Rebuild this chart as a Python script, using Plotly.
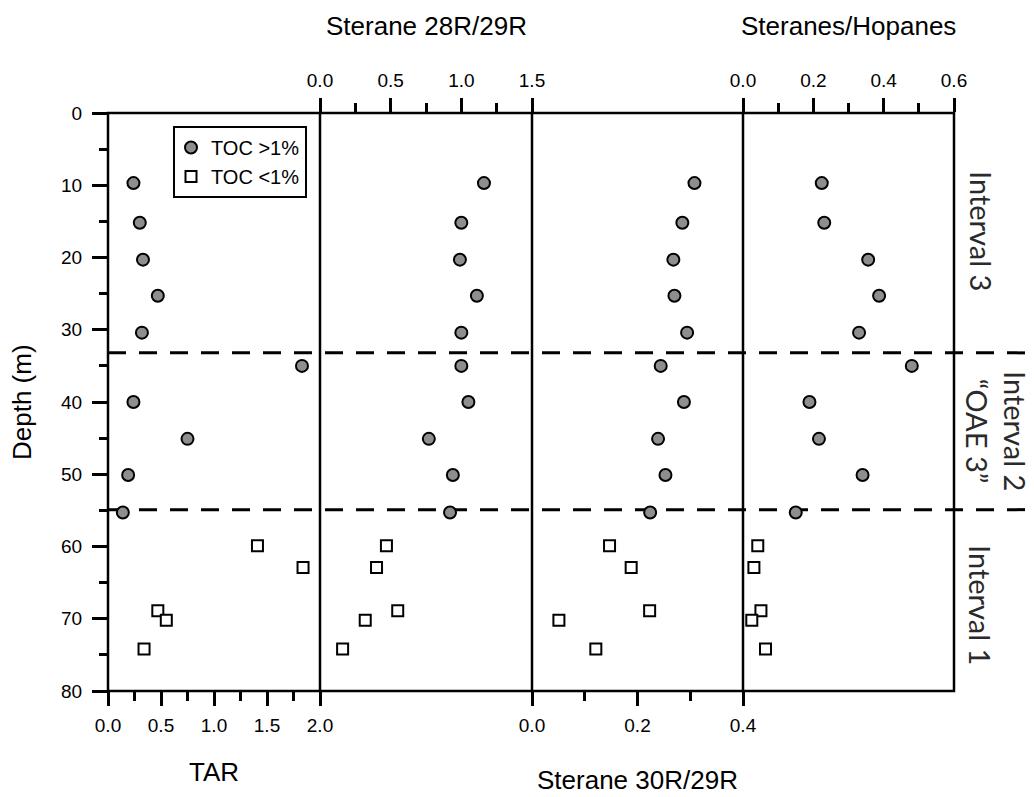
import plotly.graph_objects as go

# Sample depths (m): organic-rich (TOC >1%) and organic-lean (TOC <1%) samples
depth_high = [9.7, 15.2, 20.3, 25.3, 30.4, 35.0, 40.0, 45.1, 50.1, 55.3]
depth_low = [59.9, 62.9, 68.9, 70.2, 74.2]

# Terrigenous/aquatic ratio
tar_high = [0.24, 0.30, 0.33, 0.47, 0.32, 1.83, 0.24, 0.75, 0.19, 0.14]
tar_low = [1.41, 1.84, 0.47, 0.55, 0.34]

# C28/C29 regular sterane ratio
st28_high = [1.16, 1.00, 0.99, 1.11, 1.00, 1.00, 1.05, 0.77, 0.94, 0.92]
st28_low = [0.47, 0.40, 0.55, 0.32, 0.16]

# C30/C29 sterane ratio
st30_high = [0.308, 0.285, 0.268, 0.270, 0.294, 0.244, 0.288, 0.239, 0.253, 0.224]
st30_low = [0.147, 0.188, 0.223, 0.051, 0.121]

# Steranes/hopanes
sh_high = [0.224, 0.231, 0.356, 0.387, 0.330, 0.480, 0.189, 0.216, 0.340, 0.150]
sh_low = [0.042, 0.031, 0.051, 0.025, 0.064]

# Interval boundaries (m)
interval_bounds = [33.2, 54.9]

FONT = "Liberation Sans, Arial, sans-serif"
W, H = 1034, 797
L, R, T, B = 108, 80, 113, 106
PW = W - L - R
PH = H - T - B

# panel edges in pixels -> paper fractions
edges_px = [108, 320, 532, 743, 954]
edges = [(p - L) / PW for p in edges_px]


def px_x(p):
    return (p - L) / PW


def px_y(p):
    return (H - B - p) / PH


fig = go.Figure()

panels = [
    ("x", tar_high, tar_low),
    ("x2", st28_high, st28_low),
    ("x3", st30_high, st30_low),
    ("x4", sh_high, sh_low),
]

for i, (xa, hi, lo) in enumerate(panels):
    fig.add_trace(go.Scatter(
        x=hi, y=depth_high, xaxis=xa, yaxis="y", mode="markers",
        name="TOC >1%", showlegend=(i == 0), legendgroup="hi",
        marker=dict(symbol="circle", size=12, color="#8e8e8e",
                    line=dict(color="black", width=2)),
        cliponaxis=False,
    ))
    fig.add_trace(go.Scatter(
        x=lo, y=depth_low, xaxis=xa, yaxis="y", mode="markers",
        name="TOC <1%", showlegend=(i == 0), legendgroup="lo",
        marker=dict(symbol="square", size=11, color="white",
                    line=dict(color="black", width=2)),
        cliponaxis=False,
    ))

tickfont = dict(family=FONT, size=19, color="black")


def xaxis_cfg(dom, rng, dtick, mdtick, side):
    return dict(
        domain=dom, range=rng, anchor="y", side=side,
        dtick=dtick, tick0=0, tickformat=".1f",
        ticks="outside", ticklen=14, tickwidth=2.5, tickcolor="black",
        minor=dict(dtick=mdtick, tick0=0, ticks="outside", ticklen=9,
                   tickwidth=2.5, tickcolor="black", showgrid=False),
        showline=False, showgrid=False, zeroline=False,
        tickfont=tickfont, ticklabelstandoff=3,
    )


fig.update_layout(
    width=W, height=H, autosize=False,
    margin=dict(l=L, r=R, t=T, b=B, pad=0),
    paper_bgcolor="white", plot_bgcolor="white",
    font=dict(family=FONT, color="black"),
    xaxis=xaxis_cfg([edges[0], edges[1]], [0, 2], 0.5, 0.25, "bottom"),
    xaxis2=xaxis_cfg([edges[1], edges[2]], [0, 1.5], 0.5, 0.25, "top"),
    xaxis3=xaxis_cfg([edges[2], edges[3]], [0, 0.4], 0.2, 0.1, "bottom"),
    xaxis4=xaxis_cfg([edges[3], edges[4]], [0, 0.6], 0.2, 0.1, "top"),
    yaxis=dict(
        domain=[0, 1], range=[80, 0], anchor="x", side="left",
        dtick=10, tick0=0,
        ticks="outside", ticklen=15, tickwidth=2.5, tickcolor="black",
        minor=dict(dtick=5, tick0=0, ticks="outside", ticklen=8,
                   tickwidth=2.5, tickcolor="black", showgrid=False),
        showline=False, showgrid=False, zeroline=False,
        tickfont=tickfont, ticklabelstandoff=6,
    ),
    legend=dict(
        x=px_x(173), y=px_y(126), xanchor="left", yanchor="top",
        bgcolor="white", bordercolor="black", borderwidth=2,
        font=dict(family=FONT, size=20, color="black"),
        itemsizing="trace", indentation=-4, tracegroupgap=0,
    ),
    showlegend=True,
)

# Frame and panel separators
shapes = [dict(type="rect", xref="paper", yref="paper", x0=0, x1=1, y0=0, y1=1,
               line=dict(color="black", width=2.5), layer="above")]
for e in edges[1:-1]:
    shapes.append(dict(type="line", xref="paper", yref="paper", x0=e, x1=e,
                       y0=0, y1=1, line=dict(color="black", width=2.5),
                       layer="above"))
# Interval boundaries
for d in interval_bounds:
    shapes.append(dict(type="line", xref="paper", yref="y", x0=0,
                       x1=(W - L) / PW, y0=d, y1=d,
                       line=dict(color="black", width=3, dash="18px,13px"),
                       layer="below"))
fig.update_layout(shapes=shapes)

title_font = dict(family=FONT, size=26, color="black")
interval_font = dict(family="Lato, Open Sans, sans-serif", size=29, color="#2a2a2a")

annotations = [
    dict(text="Sterane 28R/29R", x=px_x(426), y=px_y(26), font=title_font),
    dict(text="Steranes/Hopanes", x=px_x(848), y=px_y(26), font=title_font),
    dict(text="TAR", x=px_x(214), y=px_y(772), font=title_font),
    dict(text="Sterane 30R/29R", x=px_x(637), y=px_y(780), font=title_font),
    dict(text="Depth (m)", x=px_x(22), y=px_y(402), font=title_font, textangle=-90),
    dict(text="Interval 3", x=px_x(982), y=px_y(231), font=interval_font, textangle=90),
    dict(text="Interval 2<br>\u201cOAE 3\u201d", x=px_x(997), y=px_y(431),
         font=interval_font, textangle=90),
    dict(text="Interval 1", x=px_x(981), y=px_y(605), font=interval_font, textangle=90),
]
for a in annotations:
    a.update(xref="paper", yref="paper", showarrow=False,
             xanchor="center", yanchor="middle")
fig.update_layout(annotations=annotations)

fig.write_html("out.html")
